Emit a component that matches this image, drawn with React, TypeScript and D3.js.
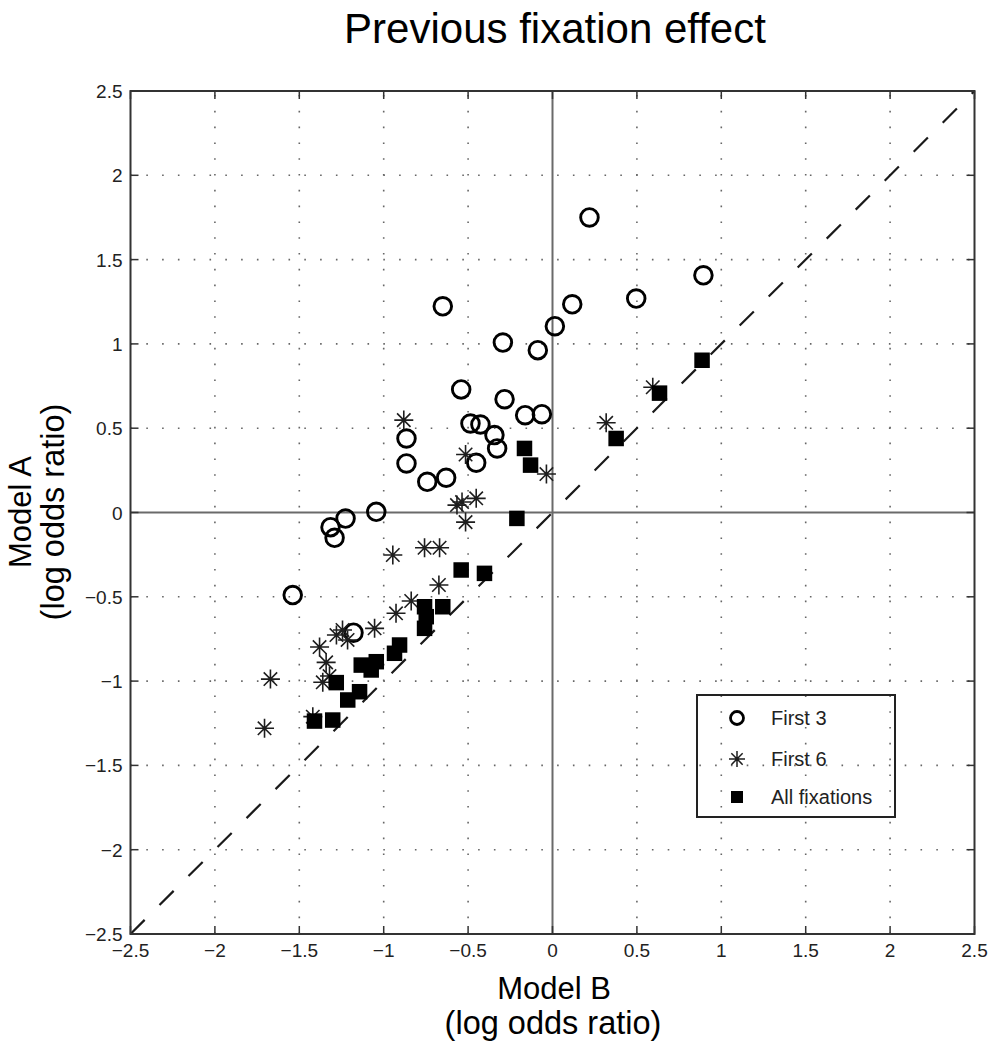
import React, { useEffect, useRef } from "react";
import * as d3 from "d3";

// Series: First 3 (open circles)
const first3X = [0.219, 0.894, 0.496, 0.117, -0.65, 0.014, -0.294, -0.087, -0.541, -0.284, -0.162, -0.063, -0.486, -0.427, -0.344, -0.328, -0.865, -0.865, -0.452, -0.742, -0.63, -1.044, -1.226, -1.315, -1.291, -1.539, -1.179];
const first3Y = [1.75, 1.407, 1.269, 1.235, 1.223, 1.105, 1.008, 0.963, 0.73, 0.672, 0.577, 0.583, 0.528, 0.522, 0.459, 0.38, 0.439, 0.291, 0.295, 0.182, 0.206, 0.004, -0.036, -0.087, -0.15, -0.49, -0.713];

// Series: First 6 (asterisks)
const first6X = [0.594, 0.318, -0.881, -0.515, -0.036, -0.452, -0.566, -0.536, -0.515, -0.946, -0.758, -0.669, -0.673, -0.837, -0.927, -1.054, -1.244, -1.28, -1.214, -1.38, -1.341, -1.321, -1.361, -1.671, -1.42, -1.706];
const first6Y = [0.743, 0.532, 0.548, 0.344, 0.228, 0.084, 0.044, 0.062, -0.057, -0.252, -0.209, -0.209, -0.43, -0.525, -0.598, -0.687, -0.697, -0.727, -0.756, -0.798, -0.889, -0.97, -1.007, -0.988, -1.211, -1.28];

// Series: All fixations (filled squares)
const allFixX = [0.886, 0.634, 0.377, -0.166, -0.13, -0.211, -0.541, -0.403, -0.758, -0.65, -0.758, -0.748, -0.906, -0.936, -1.044, -1.074, -1.133, -1.281, -1.143, -1.213, -1.302, -1.41];
const allFixY = [0.903, 0.708, 0.439, 0.38, 0.281, -0.035, -0.341, -0.361, -0.559, -0.559, -0.687, -0.618, -0.786, -0.835, -0.885, -0.934, -0.905, -1.009, -1.063, -1.112, -1.231, -1.237];

const tickValues = [-2.5, -2, -1.5, -1, -0.5, 0, 0.5, 1, 1.5, 2, 2.5];
const tickLabels = ["\u22122.5", "\u22122", "\u22121.5", "\u22121", "\u22120.5", "0", "0.5", "1", "1.5", "2", "2.5"];
const legendLabels = ["First 3", "First 6", "All fixations"];

const FONT = "'Liberation Sans', Arial, Helvetica, sans-serif";

export default function App() {
  const ref = useRef<SVGSVGElement>(null);

  useEffect(() => {
    const svg = d3.select(ref.current);
    svg.selectAll("*").remove();

    const left = 130.5, right = 974.5, top = 91, bottom = 934;
    const x = d3.scaleLinear().domain([-2.5, 2.5]).range([left, right]);
    const y = d3.scaleLinear().domain([-2.5, 2.5]).range([bottom, top]);

    svg.append("rect").attr("width", 989).attr("height", 1050).attr("fill", "#fff");

    // grid
    const grid = svg.append("g");
    tickValues.slice(1, -1).forEach((v) => {
      if (v !== 0) {
        grid.append("line").attr("x1", x(v)).attr("x2", x(v)).attr("y1", bottom).attr("y2", top)
          .attr("stroke", "#666").attr("stroke-width", 1.6).attr("stroke-dasharray", "1.6 14.2");
        grid.append("line").attr("x1", left).attr("x2", right).attr("y1", y(v)).attr("y2", y(v))
          .attr("stroke", "#666").attr("stroke-width", 1.6).attr("stroke-dasharray", "1.6 14.2");
      }
    });

    // zero lines
    svg.append("line").attr("x1", x(0)).attr("x2", x(0)).attr("y1", bottom).attr("y2", top)
      .attr("stroke", "#6a6a6a").attr("stroke-width", 2);
    svg.append("line").attr("x1", left).attr("x2", right).attr("y1", y(0)).attr("y2", y(0))
      .attr("stroke", "#6a6a6a").attr("stroke-width", 2);

    // diagonal
    svg.append("line").attr("x1", x(-2.5)).attr("y1", y(-2.5)).attr("x2", x(2.5)).attr("y2", y(2.5))
      .attr("stroke", "#1a1a1a").attr("stroke-width", 2.2).attr("stroke-dasharray", "20 21");

    // circles
    const c = svg.append("g");
    first3X.forEach((vx, i) => {
      c.append("circle").attr("cx", x(vx)).attr("cy", y(first3Y[i])).attr("r", 8.8)
        .attr("fill", "none").attr("stroke", "#000").attr("stroke-width", 2.9);
    });

    // asterisks
    const star = (g: any, cx: number, cy: number, r: number, w: number) => {
      const d = r * Math.SQRT1_2;
      g.append("path")
        .attr("d", `M${cx - r},${cy}L${cx + r},${cy}M${cx},${cy - r}L${cx},${cy + r}M${cx - d},${cy - d}L${cx + d},${cy + d}M${cx - d},${cy + d}L${cx + d},${cy - d}`)
        .attr("stroke", "#1e1e1e").attr("stroke-width", w).attr("fill", "none");
    };
    const s = svg.append("g");
    first6X.forEach((vx, i) => star(s, x(vx), y(first6Y[i]), 9.5, 1.6));

    // squares
    const q = svg.append("g");
    const side = 15.5;
    allFixX.forEach((vx, i) => {
      q.append("rect").attr("x", x(vx) - side / 2).attr("y", y(allFixY[i]) - side / 2)
        .attr("width", side).attr("height", side).attr("fill", "#000");
    });

    // box
    svg.append("rect").attr("x", left).attr("y", top).attr("width", right - left).attr("height", bottom - top)
      .attr("fill", "none").attr("stroke", "#333").attr("stroke-width", 2);

    // ticks
    const tl = 8;
    tickValues.forEach((v) => {
      svg.append("line").attr("x1", x(v)).attr("x2", x(v)).attr("y1", bottom).attr("y2", bottom - tl).attr("stroke", "#333").attr("stroke-width", 1.5);
      svg.append("line").attr("x1", x(v)).attr("x2", x(v)).attr("y1", top).attr("y2", top + tl).attr("stroke", "#333").attr("stroke-width", 1.5);
      svg.append("line").attr("x1", left).attr("x2", left + tl).attr("y1", y(v)).attr("y2", y(v)).attr("stroke", "#333").attr("stroke-width", 1.5);
      svg.append("line").attr("x1", right).attr("x2", right - tl).attr("y1", y(v)).attr("y2", y(v)).attr("stroke", "#333").attr("stroke-width", 1.5);
    });

    // tick labels
    tickValues.forEach((v, i) => {
      svg.append("text").attr("x", x(v)).attr("y", bottom + 23).attr("text-anchor", "middle")
        .attr("font-family", FONT).attr("font-size", 19).attr("fill", "#222").text(tickLabels[i]);
      svg.append("text").attr("x", left - 8).attr("y", y(v) + 7).attr("text-anchor", "end")
        .attr("font-family", FONT).attr("font-size", 19).attr("fill", "#222").text(tickLabels[i]);
    });

    // title
    svg.append("text").attr("x", 555).attr("y", 43).attr("text-anchor", "middle")
      .attr("font-family", FONT).attr("font-size", 42).attr("fill", "#000").text("Previous fixation effect");

    // x label
    svg.append("text").attr("x", 554).attr("y", 999).attr("text-anchor", "middle")
      .attr("font-family", FONT).attr("font-size", 31).attr("fill", "#000").text("Model B");
    svg.append("text").attr("x", 553).attr("y", 1034).attr("text-anchor", "middle")
      .attr("font-family", FONT).attr("font-size", 32.5).attr("fill", "#000").text("(log odds ratio)");

    // y label
    svg.append("text").attr("transform", "translate(31,512) rotate(-90)").attr("text-anchor", "middle")
      .attr("font-family", FONT).attr("font-size", 31).attr("fill", "#000").text("Model A");
    svg.append("text").attr("transform", "translate(64,512) rotate(-90)").attr("text-anchor", "middle")
      .attr("font-family", FONT).attr("font-size", 32.5).attr("fill", "#000").text("(log odds ratio)");

    // legend
    const lg = svg.append("g");
    lg.append("rect").attr("x", 697).attr("y", 695).attr("width", 198).attr("height", 122)
      .attr("fill", "none").attr("stroke", "#222").attr("stroke-width", 2);
    const ly = [718, 759, 797];
    lg.append("circle").attr("cx", 737).attr("cy", ly[0]).attr("r", 6.5).attr("fill", "none").attr("stroke", "#000").attr("stroke-width", 2.8);
    star(lg, 737, ly[1], 8, 1.5);
    lg.append("rect").attr("x", 737 - 6).attr("y", ly[2] - 6).attr("width", 12).attr("height", 12).attr("fill", "#000");
    legendLabels.forEach((t, i) => {
      lg.append("text").attr("x", 771).attr("y", ly[i] + 7).attr("font-family", FONT).attr("font-size", 20)
        .attr("fill", "#222").text(t);
    });
  }, []);

  return <svg ref={ref} width={989} height={1050} style={{ position: "absolute", left: 0, top: 0 }} />;
}
